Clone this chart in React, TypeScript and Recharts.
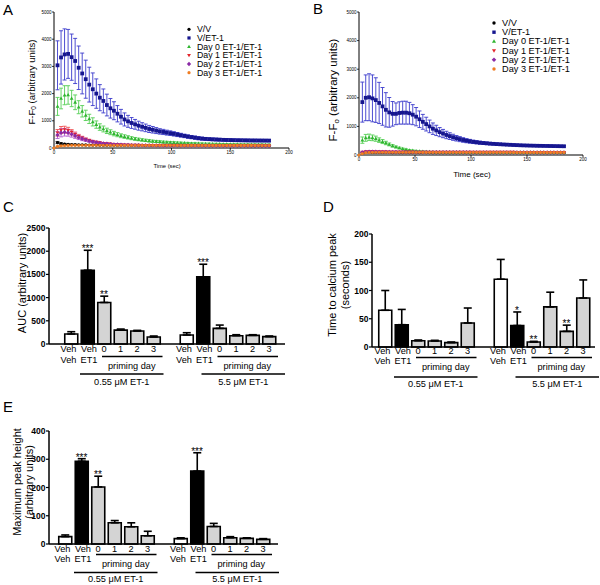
import React from 'react';
import { Bar, Cell, ComposedChart, ErrorBar, LabelList, Line, XAxis, YAxis } from 'recharts';

const FONT = '"Liberation Sans", Arial, Helvetica, sans-serif';

// ---- traces (panels A, B): sampled every 3 s ----
const timeSec = [
  0, 3, 6, 9, 12, 15, 18, 21, 24, 27,
  30, 33, 36, 39, 42, 45, 48, 51, 54, 57,
  60, 63, 66, 69, 72, 75, 78, 81, 84, 87,
  90, 93, 96, 99, 102, 105, 108, 111, 114, 117,
  120, 123, 126, 129, 132, 135, 138, 141, 144, 147,
  150, 153, 156, 159, 162, 165, 168, 171, 174, 177,
  180, 183,
];
const timeTicks = [0, 50, 100, 150, 200];
const traceTicks = [0, 1000, 2000, 3000, 4000, 5000];

const seriesNames = ['V/V', 'V/ET-1', 'Day 0 ET-1/ET-1', 'Day 1 ET-1/ET-1', 'Day 2 ET-1/ET-1', 'Day 3 ET-1/ET-1'];
const seriesColors = ['#000000', '#16168f', '#2fb52f', '#e3242b', '#8a2aa6', '#f07d22'];
const seriesErrColors = ['#333333', '#3a3acc', '#55cf55', '#f05454', '#b25ccf', '#f5a055'];
const seriesShapes = ['circle', 'square', 'tri', 'triDown', 'diamond', 'circle'];

// panel A
const aVV = [
  null, 200, 165, 145, 135, 128, 122, 118, 115, 112,
  110, 108, 106, 105, 104, 103, 102, 101, 100, 100,
  99, 99, 98, 98, 97, 97, 96, 96, 95, 95,
  95, 94, 94, 94, 93, 93, 93, 92, 92, 92,
  91, 91, 91, 90, 90, 90, 90, 89, 89, 89,
  89, 88, 88, 88, 88, 88, 87, 87, 87, 87,
  87, 86,
];
const aVVSem = [
  null, 40, 30, 25, 20, 18, 16, 15, 15, 14,
  14, 14, 13, 13, 13, 13, 12, 12, 12, 12,
  12, 12, 12, 12, 12, 12, 12, 11, 11, 11,
  11, 11, 11, 11, 11, 11, 11, 11, 11, 11,
  10, 10, 10, 10, 10, 10, 10, 10, 10, 10,
  10, 10, 10, 10, 10, 10, 10, 10, 10, 10,
  10, 10,
];
const aVE = [
  null, 3040, 3330, 3440, 3460, 3340, 3200, 2950, 2740, 2530,
  2330, 2160, 2000, 1850, 1730, 1580, 1460, 1370, 1260, 1150,
  1050, 980, 920, 870, 820, 780, 740, 700, 670, 640,
  610, 590, 565, 545, 520, 495, 470, 445, 420, 400,
  380, 360, 345, 335, 325, 318, 312, 306, 300, 296,
  292, 288, 285, 283, 281, 279, 277, 276, 275, 274,
  273, 272,
];
const aVESem = [
  null, 900, 980, 940, 900, 850, 830, 800, 750, 700,
  640, 600, 540, 480, 440, 400, 360, 330, 300, 270,
  240, 220, 200, 180, 165, 150, 140, 130, 120, 110,
  100, 95, 90, 85, 80, 75, 70, 65, 62, 60,
  58, 56, 54, 52, 50, 50, 48, 48, 47, 47,
  46, 46, 45, 45, 45, 44, 44, 44, 43, 43,
  43, 42,
];
const aD0 = [
  null, 1530, 1820, 1940, 1950, 1820, 1680, 1500, 1350, 1200,
  1070, 960, 860, 770, 700, 630, 580, 530, 490, 450,
  420, 390, 360, 335, 315, 295, 280, 265, 250, 240,
  230, 220, 212, 205, 198, 192, 186, 180, 175, 170,
  166, 162, 158, 155, 152, 149, 146, 144, 142, 140,
  138, 136, 134, 132, 130, 129, 128, 127, 126, 125,
  124, 123,
];
const aD0Sem = [
  null, 330, 380, 350, 340, 300, 270, 240, 210, 190,
  170, 150, 135, 120, 108, 98, 90, 82, 75, 70,
  65, 60, 56, 52, 49, 46, 44, 42, 40, 38,
  36, 35, 34, 33, 32, 31, 30, 29, 28, 28,
  27, 27, 26, 26, 25, 25, 25, 24, 24, 24,
  23, 23, 23, 23, 22, 22, 22, 22, 22, 21,
  21, 21,
];
const aD1 = [
  null, 560, 660, 680, 650, 580, 500, 430, 370, 320,
  280, 245, 215, 195, 175, 160, 148, 138, 130, 124,
  118, 113, 109, 105, 102, 100, 99, 98, 97, 96,
  95, 95, 94, 94, 93, 93, 92, 92, 91, 91,
  90, 90, 90, 89, 89, 89, 88, 88, 88, 88,
  87, 87, 87, 87, 86, 86, 86, 86, 86, 85,
  85, 85,
];
const aD1Sem = [
  null, 120, 130, 120, 110, 95, 85, 70, 60, 50,
  42, 36, 30, 27, 24, 22, 20, 19, 18, 17,
  16, 16, 15, 15, 15, 14, 14, 14, 14, 13,
  13, 13, 13, 13, 12, 12, 12, 12, 12, 12,
  12, 11, 11, 11, 11, 11, 11, 11, 11, 10,
  10, 10, 10, 10, 10, 10, 10, 10, 10, 10,
  10, 10,
];
const aD2 = [
  null, 480, 560, 580, 560, 510, 450, 390, 340, 300,
  260, 230, 205, 185, 168, 155, 144, 135, 128, 122,
  116, 111, 107, 104, 101, 99, 97, 96, 95, 94,
  93, 93, 92, 92, 91, 91, 90, 90, 90, 89,
  89, 89, 88, 88, 88, 88, 87, 87, 87, 87,
  86, 86, 86, 86, 86, 85, 85, 85, 85, 85,
  84, 84,
];
const aD2Sem = [
  null, 130, 150, 140, 125, 110, 95, 80, 70, 60,
  52, 45, 40, 35, 31, 28, 25, 23, 21, 20,
  19, 18, 17, 16, 16, 15, 15, 14, 14, 14,
  13, 13, 13, 13, 12, 12, 12, 12, 12, 12,
  11, 11, 11, 11, 11, 11, 11, 10, 10, 10,
  10, 10, 10, 10, 10, 10, 10, 10, 10, 10,
  10, 10,
];
const aD3 = [
  0, 60, 80, 90, 95, 98, 100, 101, 102, 102,
  102, 102, 102, 101, 101, 101, 100, 100, 100, 100,
  100, 99, 99, 99, 99, 98, 98, 98, 98, 98,
  97, 97, 97, 97, 97, 96, 96, 96, 96, 96,
  95, 95, 95, 95, 95, 95, 94, 94, 94, 94,
  94, 94, 93, 93, 93, 93, 93, 93, 92, 92,
  92, 92,
];
const aD3Sem = [
  0, 10, 12, 12, 12, 12, 12, 12, 12, 12,
  12, 12, 12, 12, 12, 12, 12, 12, 12, 12,
  12, 12, 12, 12, 12, 12, 12, 12, 12, 12,
  12, 12, 12, 12, 12, 12, 12, 12, 12, 12,
  12, 12, 12, 12, 12, 12, 12, 12, 12, 12,
  12, 12, 12, 12, 12, 12, 12, 12, 12, 12,
  12, 12,
];

// panel B
const bVV = [
  null, 80, 88, 90, 90, 89, 88, 88, 87, 87,
  86, 86, 86, 85, 85, 85, 85, 84, 84, 84,
  84, 84, 83, 83, 83, 83, 83, 82, 82, 82,
  82, 82, 82, 81, 81, 81, 81, 81, 81, 80,
  80, 80, 80, 80, 80, 80, 79, 79, 79, 79,
  79, 79, 79, 79, 78, 78, 78, 78, 78, 78,
  78, 78,
];
const bVE = [
  null, 1850, 2000, 2020, 1980, 1920, 1820, 1700, 1580, 1490,
  1440, 1440, 1470, 1480, 1480, 1460, 1410, 1340, 1250, 1160,
  1080, 1000, 920, 860, 800, 750, 700, 660, 620, 585,
  555, 525, 500, 480, 460, 445, 430, 418, 408, 398,
  390, 382, 375, 368, 362, 356, 350, 345, 340, 336,
  332, 328, 325, 322, 320, 318, 316, 314, 312, 310,
  308, 306,
];
const bVESem = [
  null, 700, 800, 820, 820, 780, 720, 660, 600, 520,
  430, 380, 390, 400, 400, 380, 350, 320, 290, 260,
  240, 220, 200, 180, 160, 145, 130, 118, 106, 96,
  88, 80, 72, 66, 60, 56, 52, 48, 45, 42,
  40, 38, 36, 35, 34, 33, 32, 31, 30, 30,
  29, 29, 28, 28, 28, 27, 27, 27, 26, 26,
  26, 26,
];
const bD0 = [
  null, 520, 600, 620, 600, 570, 520, 470, 420, 370,
  320, 280, 245, 215, 190, 170, 155, 143, 133, 125,
  118, 112, 107, 103, 100, 98, 96, 95, 94, 93,
  92, 91, 90, 90, 89, 89, 88, 88, 88, 87,
  87, 87, 86, 86, 86, 86, 85, 85, 85, 85,
  85, 84, 84, 84, 84, 84, 83, 83, 83, 83,
  83, 83,
];
const bD0Sem = [
  null, 110, 120, 110, 100, 90, 80, 70, 60, 50,
  42, 35, 30, 26, 23, 20, 18, 17, 16, 15,
  14, 14, 13, 13, 12, 12, 12, 12, 11, 11,
  11, 11, 11, 10, 10, 10, 10, 10, 10, 10,
  10, 10, 10, 10, 10, 10, 9, 9, 9, 9,
  9, 9, 9, 9, 9, 9, 9, 9, 9, 9,
  9, 9,
];
const bD1 = [
  null, 100, 120, 125, 125, 122, 120, 118, 116, 114,
  112, 111, 110, 109, 108, 107, 106, 105, 105, 104,
  104, 103, 103, 102, 102, 102, 101, 101, 101, 100,
  100, 100, 100, 99, 99, 99, 99, 98, 98, 98,
  98, 98, 97, 97, 97, 97, 97, 96, 96, 96,
  96, 96, 96, 95, 95, 95, 95, 95, 95, 95,
  94, 94,
];
const bD2 = [
  null, 90, 110, 115, 115, 113, 111, 109, 107, 106,
  105, 104, 103, 102, 101, 100, 100, 99, 99, 98,
  98, 98, 97, 97, 97, 96, 96, 96, 96, 95,
  95, 95, 95, 95, 94, 94, 94, 94, 94, 93,
  93, 93, 93, 93, 93, 92, 92, 92, 92, 92,
  92, 92, 91, 91, 91, 91, 91, 91, 91, 90,
  90, 90,
];
const bD3 = [
  0, 50, 80, 90, 95, 96, 97, 97, 97, 97,
  97, 97, 97, 96, 96, 96, 96, 96, 96, 95,
  95, 95, 95, 95, 95, 94, 94, 94, 94, 94,
  94, 94, 93, 93, 93, 93, 93, 93, 93, 92,
  92, 92, 92, 92, 92, 92, 91, 91, 91, 91,
  91, 91, 91, 90, 90, 90, 90, 90, 90, 90,
  90, 90,
];
const bLowSem = [
  0, 10, 12, 12, 12, 12, 12, 12, 12, 12,
  12, 12, 12, 12, 12, 12, 12, 12, 12, 12,
  12, 12, 12, 12, 12, 12, 12, 12, 12, 12,
  12, 12, 12, 12, 12, 12, 12, 12, 12, 12,
  12, 12, 12, 12, 12, 12, 12, 12, 12, 12,
  12, 12, 12, 12, 12, 12, 12, 12, 12, 12,
  12, 12,
];

const aMeans = [aVV, aVE, aD0, aD1, aD2, aD3];
const aSems = [aVVSem, aVESem, aD0Sem, aD1Sem, aD2Sem, aD3Sem];
const bMeans = [bVV, bVE, bD0, bD1, bD2, bD3];
const bSems = [bLowSem, bVESem, bD0Sem, bLowSem, bLowSem, bLowSem];

// ---- bar panels (C, D, E) ----
const barCats = ['vv1', 've1', 'p0a', 'p1a', 'p2a', 'p3a', 'gap', 'vv2', 've2', 'p0b', 'p1b', 'p2b', 'p3b'];
const barRow1 = ['Veh', 'Veh', '0', '1', '2', '3', '', 'Veh', 'Veh', '0', '1', '2', '3'];
const barRow2 = ['Veh', 'ET1', '', '', '', '', '', 'Veh', 'ET1', '', '', '', ''];
const barKind = ['veh', 'et1', 'prime', 'prime', 'prime', 'prime', 'gap', 'veh', 'et1', 'prime', 'prime', 'prime', 'prime'];
const groupLabels = ['0.55 \u03bcM ET-1', '5.5 \u03bcM ET-1'];

const aucMean = [215, 1590, 895, 300, 279, 150, null, 193, 1447, 337, 179, 186, 158];
const aucSem = [50, 430, 136, 22, 15, 22, null, 50, 272, 71, 21, 14, 14];
const aucSig = ['', '***', '**', '', '', '', '', '', '***', '', '', '', ''];

const peakTimeMean = [65, 39.5, 11, 10.6, 7.7, 42.5, null, 120, 38, 8.8, 71, 27.7, 86.7];
const peakTimeSem = [35, 27, 1.4, 1.2, 1.1, 26.5, null, 35, 24, 1.2, 26, 11, 32];
const peakTimeSig = ['', '', '', '', '', '', '', '', '*', '**', '', '**', ''];

const peakMean = [26, 293, 202, 75, 61, 29, null, 19, 258, 62, 22, 20, 16.5];
const peakSem = [6, 9, 38, 8, 14, 16, null, 3, 65, 11, 4, 2, 2.5];
const peakSig = ['', '***', '**', '', '', '', '', '', '***', '', '', '', ''];

const BAND = 16.5;
const barFill: Record<string, string> = { veh: '#ffffff', et1: '#000000', prime: '#d4d4d4', gap: 'none' };
const labelShift: Record<string, number> = { veh: -2.5, et1: 1.5, prime: 0, gap: 0 };

interface RowOffsets {
  row1: number;
  row2: number;
  under: number;
  priming: number;
  long: number;
  conc: number;
}

const Marker = ({ shape, x, y, r, fill }: { shape: string; x: number; y: number; r: number; fill: string }) => {
  if (shape === 'square') return <rect x={x - r} y={y - r} width={r * 2} height={r * 2} fill={fill} />;
  if (shape === 'tri')
    return <polygon points={`${x},${y - r * 1.25} ${x + r * 1.2},${y + r * 0.85} ${x - r * 1.2},${y + r * 0.85}`} fill={fill} />;
  if (shape === 'triDown')
    return <polygon points={`${x},${y + r * 1.25} ${x + r * 1.2},${y - r * 0.85} ${x - r * 1.2},${y - r * 0.85}`} fill={fill} />;
  if (shape === 'diamond')
    return <polygon points={`${x},${y - r * 1.35} ${x + r * 1.35},${y} ${x},${y + r * 1.35} ${x - r * 1.35},${y}`} fill={fill} />;
  return <circle cx={x} cy={y} r={r} fill={fill} />;
};

interface TraceProps {
  means: (number | null)[][];
  sems: (number | null)[][];
  left: number;
  yAxisWidth: number;
  marginRight: number;
  xAxisHeight: number;
}

const TracePanel = ({ means, sems, left, yAxisWidth, marginRight, xAxisHeight }: TraceProps) => (
  <div style={{ position: 'absolute', left, top: 0 }}>
    <ComposedChart width={300} height={180} margin={{ top: 12, right: marginRight, bottom: 0, left: 0 }}>
      <XAxis
        type="number"
        dataKey="t"
        domain={[0, 200]}
        ticks={timeTicks}
        height={xAxisHeight}
        axisLine={{ stroke: '#000', strokeWidth: 1 }}
        tickLine={{ stroke: '#000', strokeWidth: 0.8 }}
        tickSize={2}
        tickMargin={1}
        tick={{ fontSize: 4.5, fill: '#000' }}
      />
      <YAxis
        type="number"
        domain={[0, 5000]}
        ticks={traceTicks}
        width={yAxisWidth}
        axisLine={{ stroke: '#000', strokeWidth: 1 }}
        tickLine={{ stroke: '#000', strokeWidth: 0.8 }}
        tickSize={2}
        tickMargin={0.5}
        tick={{ fontSize: 4.5, fill: '#000' }}
      />
      {seriesNames.map((name, k) => {
        const data = timeSec
          .map((t, i) => ({ t, y: means[k][i], e: sems[k][i] }))
          .filter((d) => d.y != null);
        return (
          <Line
            key={name}
            name={name}
            data={data}
            dataKey="y"
            stroke="none"
            isAnimationActive={false}
            activeDot={false}
            dot={(p: any) =>
              p.cx == null || p.cy == null ? (
                <g key={`${name}-${p.index}`} />
              ) : (
                <g key={`${name}-${p.index}`}>
                  <Marker shape={seriesShapes[k]} x={p.cx} y={p.cy} r={k === 1 ? 1.9 : 1.6} fill={seriesColors[k]} />
                </g>
              )
            }
          >
            <ErrorBar dataKey="e" width={2} stroke={seriesErrColors[k]} strokeWidth={0.9} direction="y" />
          </Line>
        );
      })}
    </ComposedChart>
  </div>
);

const makeBarTick = (o: RowOffsets) => (props: any) => {
  const { x, y, payload } = props;
  const i = barCats.indexOf(payload?.value);
  if (i < 0 || barKind[i] === 'gap') return <g />;
  const txt = { fontSize: 9.2, fill: '#000', textAnchor: 'middle' as const, dominantBaseline: 'central' as const };
  const group = i < 6 ? 0 : 1;
  const lx = x + labelShift[barKind[i]];
  return (
    <g>
      <text x={lx} y={y + o.row1} {...txt}>{barRow1[i]}</text>
      {barRow2[i] ? <text x={lx} y={y + o.row2} {...txt}>{barRow2[i]}</text> : null}
      {barRow1[i] === '0' ? (
        <g>
          <line x1={x - 2} x2={x + 3 * BAND + 9} y1={y + o.under} y2={y + o.under} stroke="#000" strokeWidth={1.5} />
          <text x={x + 1.5 * BAND + 3} y={y + o.priming} {...txt}>priming day</text>
        </g>
      ) : null}
      {i === 0 || i === 7 ? (
        <g>
          <line
            x1={x + (group === 0 ? 9 : 15)}
            x2={x + 5 * BAND + (group === 0 ? 10 : 16)}
            y1={y + o.long}
            y2={y + o.long}
            stroke="#000"
            strokeWidth={1.5}
          />
          <text x={x + 2.5 * BAND + (group === 0 ? 9.5 : 15.5)} y={y + o.conc} {...txt}>{groupLabels[group]}</text>
        </g>
      ) : null}
    </g>
  );
};

const renderStar = (p: any) => {
  const x = p.x ?? p.viewBox?.x;
  const y = p.y ?? p.viewBox?.y;
  if (!p.value || x == null || y == null) return null;
  return (
    <text x={x} y={y + 2} textAnchor="middle" fontSize={10} fill="#000" style={{ fill: '#000' }}>
      {p.value}
    </text>
  );
};

interface BarPanelProps {
  means: (number | null)[];
  sems: (number | null)[];
  sigs: string[];
  yTicks: number[];
  left: number;
  top: number;
  height: number;
  marginTop: number;
  marginRight: number;
  yAxisWidth: number;
  xAxisHeight: number;
  padLeft: number;
  padRight: number;
  offsets: RowOffsets;
}

const BarPanel = (p: BarPanelProps) => {
  const rows = barCats.map((cat, i) => {
    const v = p.means[i];
    const e = p.sems[i];
    return {
      cat,
      v,
      err: v == null || e == null ? null : [0, e],
      star: p.sigs[i] && v != null && e != null ? v + e : null,
      sig: p.sigs[i] || null,
    };
  });
  return (
    <div style={{ position: 'absolute', left: p.left, top: p.top }}>
      <ComposedChart
        width={300}
        height={p.height}
        data={rows}
        margin={{ top: p.marginTop, right: p.marginRight, bottom: 0, left: 0 }}
      >
        <XAxis
          dataKey="cat"
          type="category"
          interval={0}
          height={p.xAxisHeight}
          padding={{ left: p.padLeft, right: p.padRight }}
          tickLine={false}
          tickSize={0}
          tickMargin={0}
          axisLine={{ stroke: '#000', strokeWidth: 1.5 }}
          tick={makeBarTick(p.offsets)}
        />
        <YAxis
          type="number"
          domain={[0, p.yTicks[p.yTicks.length - 1]]}
          ticks={p.yTicks}
          width={p.yAxisWidth}
          axisLine={{ stroke: '#000', strokeWidth: 1.5 }}
          tickLine={{ stroke: '#000', strokeWidth: 1.2 }}
          tickSize={3}
          tickMargin={0.5}
          tick={{ fontSize: 8.5, fontWeight: 'bold', fill: '#000' }}
        />
        <Bar dataKey="v" barSize={13} stroke="#000" strokeWidth={1.6} isAnimationActive={false}>
          {rows.map((r, i) => (
            <Cell key={r.cat} fill={barFill[barKind[i]]} />
          ))}
          <ErrorBar dataKey="err" width={4} stroke="#000" strokeWidth={1.6} direction="y" />
        </Bar>
        <Line dataKey="star" stroke="#000" strokeWidth={0} dot={false} activeDot={false} isAnimationActive={false}>
          <LabelList dataKey="sig" fill="#000" content={renderStar} />
        </Line>
      </ComposedChart>
    </div>
  );
};

const LegendBlock = ({ x, y, step, fontSize, r }: { x: number; y: number; step: number; fontSize: number; r: number }) => (
  <g>
    {seriesNames.map((name, k) => (
      <g key={name}>
        <Marker shape={seriesShapes[k]} x={x} y={y + k * step} r={r} fill={seriesColors[k]} />
        <text x={x + 8} y={y + k * step} fontSize={fontSize} dominantBaseline="central" fill="#000">
          {name}
        </text>
      </g>
    ))}
  </g>
);

const VTitle = ({ x, y, size, children }: { x: number; y: number; size: number; children: React.ReactNode }) => (
  <text
    x={x}
    y={y}
    transform={`rotate(-90 ${x} ${y})`}
    textAnchor="middle"
    dominantBaseline="central"
    fontSize={size}
    fill="#000"
  >
    {children}
  </text>
);

export default function App() {
  return (
    <div
      style={{
        position: 'absolute',
        left: 0,
        top: 0,
        width: 600,
        height: 585,
        background: '#fff',
        fontFamily: FONT,
        overflow: 'hidden',
      }}
    >
      <TracePanel means={aMeans} sems={aSems} left={0} yAxisWidth={54} marginRight={11} xAxisHeight={32} />
      <TracePanel means={bMeans} sems={bSems} left={300} yAxisWidth={59} marginRight={17} xAxisHeight={25} />

      <BarPanel
        means={aucMean}
        sems={aucSem}
        sigs={aucSig}
        yTicks={[0, 500, 1000, 1500, 2000, 2500]}
        left={0}
        top={190}
        height={200}
        marginTop={38}
        marginRight={15}
        yAxisWidth={49}
        xAxisHeight={46}
        padLeft={13.75}
        padRight={7.75}
        offsets={{ row1: 5, row2: 16, under: 12.5, priming: 22, long: 30, conc: 37.5 }}
      />
      <BarPanel
        means={peakTimeMean}
        sems={peakTimeSem}
        sigs={peakTimeSig}
        yTicks={[0, 50, 100, 150, 200]}
        left={300}
        top={190}
        height={200}
        marginTop={44}
        marginRight={5}
        yAxisWidth={72}
        xAxisHeight={43}
        padLeft={4.75}
        padRight={3.75}
        offsets={{ row1: 4, row2: 13.5, under: 10.5, priming: 19.5, long: 30, conc: 37 }}
      />
      <BarPanel
        means={peakMean}
        sems={peakSem}
        sigs={peakSig}
        yTicks={[0, 100, 200, 300, 400]}
        left={0}
        top={395}
        height={190}
        marginTop={36}
        marginRight={22}
        yAxisWidth={49}
        xAxisHeight={41}
        padLeft={7.75}
        padRight={6.75}
        offsets={{ row1: 5, row2: 14.5, under: 10.5, priming: 20, long: 28.5, conc: 35 }}
      />

      <svg
        width={600}
        height={585}
        style={{ position: 'absolute', left: 0, top: 0, pointerEvents: 'none', fontFamily: FONT }}
      >
        <g fontSize={15} fill="#000">
          <text x={3} y={14.5}>A</text>
          <text x={313} y={13.5}>B</text>
          <text x={3} y={212}>C</text>
          <text x={323} y={211.5}>D</text>
          <text x={3} y={412}>E</text>
        </g>

        <VTitle x={31} y={82} size={9.5}>
          F-F<tspan dy={2} fontSize={6.5}>0</tspan>
          <tspan dy={-2}> (arbitrary units)</tspan>
        </VTitle>
        <text x={167} y={166} fontSize={5.8} textAnchor="middle" dominantBaseline="central">Time (sec)</text>
        <LegendBlock x={189} y={29.3} step={8.67} fontSize={8.8} r={1.6} />

        <VTitle x={333} y={90} size={11.5}>
          F-F<tspan dy={2.5} fontSize={8}>o</tspan>
          <tspan dy={-2.5}> (arbitrary units)</tspan>
        </VTitle>
        <text x={472} y={174} fontSize={8} textAnchor="middle" dominantBaseline="central">Time (sec)</text>
        <LegendBlock x={494} y={23} step={9.2} fontSize={9.2} r={1.7} />

        <VTitle x={22} y={283} size={11}>AUC  (arbitrary units)</VTitle>
        <VTitle x={332} y={285} size={11}>Time to calcium peak</VTitle>
        <VTitle x={345} y={285} size={11}>(seconds)</VTitle>
        <VTitle x={17} y={482} size={11}>Maximum peak height</VTitle>
        <VTitle x={29} y={482} size={11}>(arbitrary units)</VTitle>
      </svg>
    </div>
  );
}
